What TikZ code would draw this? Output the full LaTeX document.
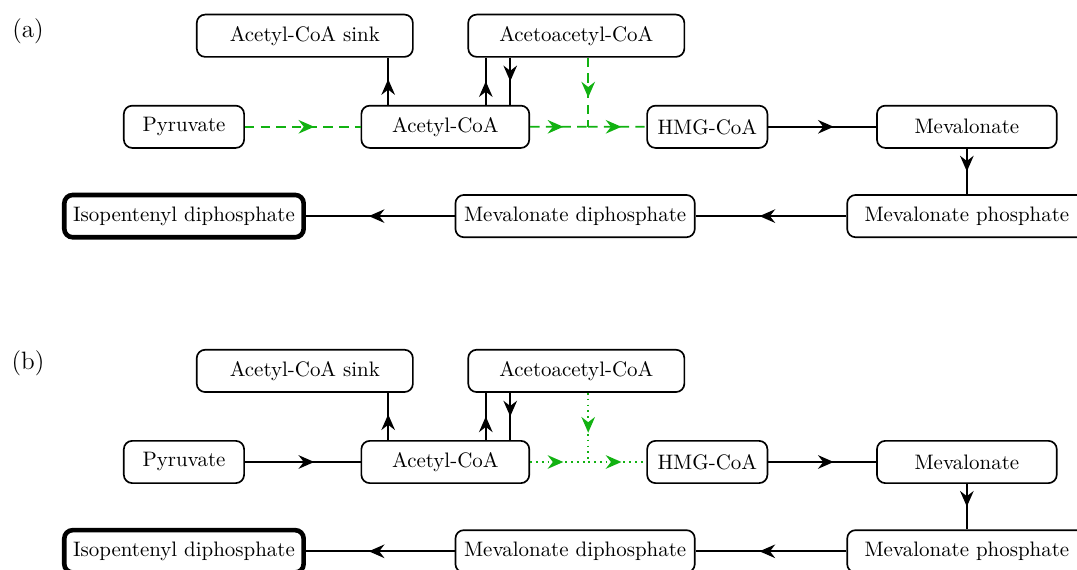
\documentclass[tikz,border=0pt]{standalone}
\usepackage{tikz}
\usetikzlibrary{positioning,arrows.meta,calc,decorations.markings}
\definecolor{PathGreen}{RGB}{18,178,18}

\begin{document}
\begin{tikzpicture}[
    box/.style={draw, thick, rounded corners, fill=white, minimum height=0.71cm, inner sep=2pt},
    midarrow/.style={postaction={decorate}, decoration={markings,
      mark=at position 0.5 with {\pgftransformxshift{#1}\arrow{Stealth[length=7.5pt,width=6.5pt,inset=2.5pt]}}}},
    midarrow/.default=0pt,
    flow/.style={thick, midarrow=#1}, flow/.default=5.5pt,
    flowdash/.style={thick, PathGreen, dash pattern=on 4.5pt off 3pt, midarrow=#1}, flowdash/.default=5.5pt,
    flowdot/.style={thick, PathGreen, dotted, midarrow=#1}, flowdot/.default=2pt]
  \useasboundingbox (0,0) rectangle (18.09,-9.56);

  % (a)
  \node[font=\large] (laba) at (0.47,-0.52) {(a)};
  \node[box, minimum width=3.63cm] (sinka) at (5.12,-0.60) {Acetyl-CoA sink};
  \node[box, minimum width=3.63cm] (acetoa) at (9.68,-0.60) {Acetoacetyl-CoA};
  \node[box, minimum width=2.02cm] (pyra) at (3.09,-2.13) {Pyruvate};
  \node[box, minimum width=2.82cm] (acetyla) at (7.48,-2.13) {Acetyl-CoA};
  \node[box, minimum width=2.02cm] (hmga) at (11.88,-2.13) {HMG-CoA};
  \node[box, minimum width=3.02cm] (meva) at (16.24,-2.13) {Mevalonate};
  \node[box, minimum width=4.02cm] (mevpa) at (16.24,-3.63) {Mevalonate phosphate};
  \node[box, minimum width=4.02cm] (mevppa) at (9.66,-3.63) {Mevalonate diphosphate};
  \node[box, minimum width=4.02cm, line width=2.2pt] (ippa) at (3.09,-3.63) {Isopentenyl diphosphate};
  \coordinate (jna) at ($(acetyla.east)!0.5!(hmga.west)$);
  \draw[flow=1pt] ([xshift=-0.96cm]acetyla.north) -- ([xshift=-0.96cm]acetyla.north |- sinka.south);
  \draw[flow=0pt] ([xshift=0.68cm]acetyla.north) -- ([xshift=0.68cm]acetyla.north |- acetoa.south);
  \draw[flow=0pt] ([xshift=1.09cm]acetyla.north |- acetoa.south) -- ([xshift=1.09cm]acetyla.north);
  \draw[flowdash] (pyra) -- (acetyla);
  \draw[flowdash=2pt] (acetyla) -- (jna);
  \draw[flowdash=2.5pt] (jna |- acetoa.south) -- (jna);
  \draw[flowdash=2pt] (jna) -- (hmga);
  \draw[flow] (hmga) -- (meva);
  \draw[flow=0pt] (meva) -- (mevpa);
  \draw[flow] (mevpa) -- (mevppa);
  \draw[flow] (mevppa) -- (ippa);

  % (b)
  \node[font=\large] (labb) at (0.47,-6.10) {(b)};
  \node[box, minimum width=3.63cm] (sinkb) at (5.12,-6.23) {Acetyl-CoA sink};
  \node[box, minimum width=3.63cm] (acetob) at (9.68,-6.23) {Acetoacetyl-CoA};
  \node[box, minimum width=2.02cm] (pyrb) at (3.09,-7.76) {Pyruvate};
  \node[box, minimum width=2.82cm] (acetylb) at (7.48,-7.76) {Acetyl-CoA};
  \node[box, minimum width=2.02cm] (hmgb) at (11.88,-7.76) {HMG-CoA};
  \node[box, minimum width=3.02cm] (mevb) at (16.24,-7.76) {Mevalonate};
  \node[box, minimum width=4.02cm] (mevpb) at (16.24,-9.26) {Mevalonate phosphate};
  \node[box, minimum width=4.02cm] (mevppb) at (9.66,-9.26) {Mevalonate diphosphate};
  \node[box, minimum width=4.02cm, line width=2.2pt] (ippb) at (3.09,-9.26) {Isopentenyl diphosphate};
  \coordinate (jnb) at ($(acetylb.east)!0.5!(hmgb.west)$);
  \draw[flow=1pt] ([xshift=-0.96cm]acetylb.north) -- ([xshift=-0.96cm]acetylb.north |- sinkb.south);
  \draw[flow=0pt] ([xshift=0.68cm]acetylb.north) -- ([xshift=0.68cm]acetylb.north |- acetob.south);
  \draw[flow=0pt] ([xshift=1.09cm]acetylb.north |- acetob.south) -- ([xshift=1.09cm]acetylb.north);
  \draw[flow] (pyrb) -- (acetylb);
  \draw[flowdot] (acetylb) -- (jnb);
  \draw[flowdot=2.5pt] (jnb |- acetob.south) -- (jnb);
  \draw[flowdot] (jnb) -- (hmgb);
  \draw[flow] (hmgb) -- (mevb);
  \draw[flow=0pt] (mevb) -- (mevpb);
  \draw[flow] (mevpb) -- (mevppb);
  \draw[flow] (mevppb) -- (ippb);
\end{tikzpicture}
\end{document}
